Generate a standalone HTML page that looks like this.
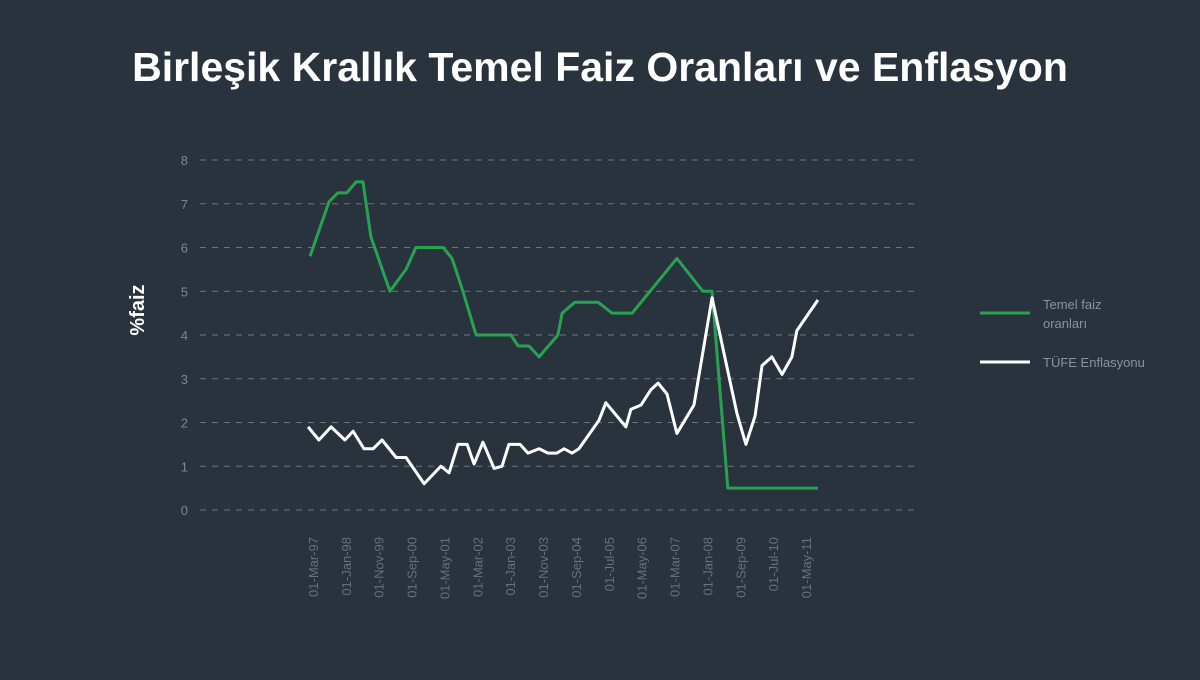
<!DOCTYPE html>
<html><head><meta charset="utf-8"><style>
body{margin:0;background:#29333e;width:1200px;height:675px;overflow:hidden;font-family:"Liberation Sans",sans-serif}
</style></head><body>
<svg width="1200" height="675">
<rect width="1200" height="675" fill="#29333e"/>
<text x="600" y="81" text-anchor="middle" fill="#fff" font-size="41" font-weight="bold">Birleşik Krallık Temel Faiz Oranları ve Enflasyon</text>
<text transform="translate(144,310) rotate(-90)" text-anchor="middle" fill="#fff" font-size="20" font-weight="bold">%faiz</text>
<g id="grid"></g><g id="ylab"></g><g id="xlab"></g><g id="series"></g>
<g>
<line x1="980" y1="313" x2="1030" y2="313" stroke="#27a34f" stroke-width="3"/>
<text x="1043" y="309" fill="#8a939b" font-size="13">Temel faiz</text>
<text x="1043" y="328" fill="#8a939b" font-size="13">oranları</text>
<line x1="980" y1="362" x2="1030" y2="362" stroke="#fff" stroke-width="3"/>
<text x="1043" y="367" fill="#8a939b" font-size="13">TÜFE Enflasyonu</text>
</g>
</svg>
<script>
const yTicks=[0,1,2,3,4,5,6,7,8];
const xLabels=["01-Mar-97","01-Jan-98","01-Nov-99","01-Sep-00","01-May-01","01-Mar-02","01-Jan-03","01-Nov-03","01-Sep-04","01-Jul-05","01-May-06","01-Mar-07","01-Jan-08","01-Sep-09","01-Jul-10","01-May-11"];
const rateT=[-0.09,0.49,0.76,1.03,1.31,1.52,1.76,2.34,2.83,3.13,3.96,4.23,4.56,4.96,6.02,6.24,6.57,6.88,7.45,7.58,7.97,8.67,9.10,9.71,11.07,11.86,12.14,12.62,15.36];
const rateV=[5.8,7.05,7.25,7.25,7.5,7.5,6.25,5.0,5.5,6.0,6.0,5.75,5.0,4.0,4.0,3.75,3.75,3.5,4.0,4.5,4.75,4.75,4.5,4.5,5.75,5.0,5.0,0.5,0.5];
const cpiT=[-0.15,0.18,0.55,0.97,1.22,1.55,1.83,2.10,2.53,2.83,3.38,3.89,4.14,4.41,4.69,4.90,5.17,5.51,5.75,5.96,6.30,6.54,6.88,7.15,7.42,7.64,7.88,8.09,8.70,8.91,9.52,9.67,9.98,10.28,10.50,10.77,11.07,11.59,12.14,12.90,13.17,13.45,13.66,13.96,14.27,14.57,14.72,15.36];
const cpiV=[1.9,1.6,1.9,1.6,1.8,1.4,1.4,1.6,1.2,1.2,0.6,1.0,0.85,1.5,1.5,1.05,1.55,0.95,1.0,1.5,1.5,1.3,1.4,1.3,1.3,1.4,1.3,1.4,2.05,2.45,1.9,2.3,2.4,2.75,2.9,2.65,1.75,2.4,4.85,2.2,1.5,2.15,3.3,3.5,3.1,3.5,4.1,4.8];
const NS="http://www.w3.org/2000/svg";
const y=v=>510-v*43.75, x=t=>313+t*32.87;
function mk(tag,attrs,parent){const e=document.createElementNS(NS,tag);for(const k in attrs)e.setAttribute(k,attrs[k]);document.getElementById(parent).appendChild(e);return e;}
yTicks.forEach(v=>{
 const l=mk('line',{x1:200,x2:920,y1:y(v),y2:y(v),stroke:'#6b747c','stroke-dasharray':'6 6','stroke-width':1},'grid');
 
 
 const t=mk('text',{x:188,y:y(v)+5,'text-anchor':'end',fill:'#7d8790','font-size':13},'ylab');t.textContent=v;
 
 
});
xLabels.forEach((s,i)=>{
 const t=mk('text',{transform:`translate(${x(i)+5},537) rotate(-90)`,'text-anchor':'end',fill:'#66707a','font-size':13},'xlab');t.textContent=s;
 
 
});
function line(T,V,c,name){
 const p=mk('polyline',{points:T.map((t,i)=>x(t)+','+y(V[i])).join(' '),fill:'none',stroke:c,'stroke-width':3,'stroke-linejoin':'round'},'series');
 
 
}
line(rateT,rateV,'#27a34f','rate-line');
line(cpiT,cpiV,'#ffffff','cpi-line');
</script>
</body></html>
